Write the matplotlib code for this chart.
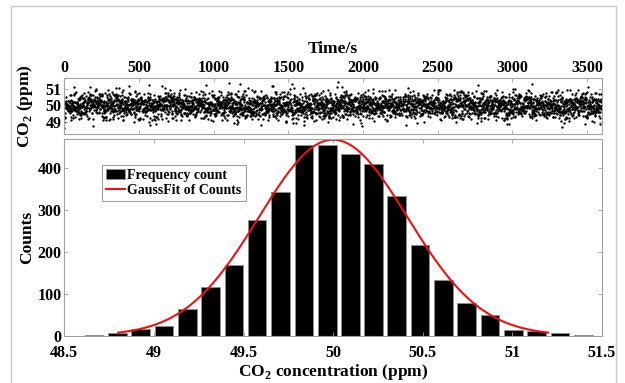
import matplotlib
matplotlib.use("Agg")
import matplotlib.pyplot as plt
import numpy as np
from matplotlib.patches import Rectangle

plt.rcParams['font.family'] = ['Liberation Serif', 'DejaVu Serif']
plt.rcParams['font.weight'] = 'bold'
plt.rcParams['mathtext.fontset'] = 'custom'
plt.rcParams['mathtext.rm'] = 'Liberation Serif:bold'
plt.rcParams['mathtext.bf'] = 'Liberation Serif:bold'

# histogram (bin centres in ppm, counts)
bin_centers = [48.666, 48.796, 48.926, 49.056, 49.186, 49.316, 49.446, 49.576,
               49.706, 49.837, 49.968, 50.096, 50.224, 50.355, 50.485, 50.615,
               50.745, 50.875, 51.005, 51.135, 51.265, 51.395]
counts = [1, 5, 15, 23, 64, 116, 168, 277, 344, 455, 456, 433, 411, 334, 216,
          133, 78, 48, 14, 10, 5, 1]
bin_width = 0.13

# gaussian fit parameters
gauss_amp = 468.0
gauss_mu = 50.0
gauss_sigma = 0.413
gauss_range = (48.8, 51.2)

# time series: 1 sample per second, values are the histogram's samples
values = []
for c, n in zip(bin_centers, counts):
    for k in range(n):
        values.append(c + bin_width * ((k + 0.5) / n - 0.5))
values = np.array(values)
# scramble the order of the samples (order is not readable from the picture)
h = np.sin(np.arange(len(values)) * 12.9898) * 43758.5453
order = np.argsort(h - np.floor(h))
co2 = values[order]
t = np.arange(len(co2))

grey = '#a0a0a0'
fig = plt.figure(figsize=(6.25, 3.83), dpi=100)
fig.patches.append(Rectangle((11 / 625, -0.01), 605 / 625, 1.01 - 6 / 383,
                             transform=fig.transFigure, fill=False,
                             edgecolor='#c8c8c8', lw=1.0))

ax1 = fig.add_axes([0.1029, 0.6493, 0.8603, 0.1462])
ax2 = fig.add_axes([0.1029, 0.124, 0.8603, 0.5123])

ax1.plot(t, co2, '.', color='k', markersize=3.4, markeredgewidth=0)
ax1.set_xlim(0, 3600)
ax1.set_ylim(48.3, 51.6)
ax1.set_xticks(range(0, 3501, 500))
ax1.set_yticks([49, 50, 51])
ax1.xaxis.set_label_position('top')
ax1.tick_params(axis='x', top=True, labeltop=True, bottom=True, labelbottom=False)
ax1.set_xlabel('Time/s', fontsize=12.5, fontweight='bold', labelpad=5)
ax1.set_ylabel(r'CO$_{\bf 2}$ (ppm)', fontsize=12.5, fontweight='bold')

bars = ax2.bar(bin_centers, counts, width=bin_width * 0.8, color='k',
               edgecolor='#909090', linewidth=0.6)
xf = np.linspace(gauss_range[0], gauss_range[1], 300)
yf = gauss_amp * np.exp(-(xf - gauss_mu) ** 2 / (2 * gauss_sigma ** 2))
line, = ax2.plot(xf, yf, color='#ee1111', lw=1.5)
ax2.set_xlim(48.5, 51.5)
ax2.set_ylim(0, 469)
ax2.set_xticks(np.arange(48.5, 51.51, 0.5))
ax2.set_xticklabels(['48.5', '49', '49.5', '50', '50.5', '51', '51.5'])
ax2.set_yticks([0, 100, 200, 300, 400])
ax2.set_xlabel(r'CO$_{\bf 2}$ concentration (ppm)', fontsize=12.5,
               fontweight='bold', labelpad=1)
ax2.set_ylabel('Counts', fontsize=12.5, fontweight='bold')
leg = ax2.legend([bars, line], ['Frequency count', 'GaussFit of Counts'],
                 loc='upper left', bbox_to_anchor=(0.0707, 0.869),
                 borderaxespad=0, fancybox=False, framealpha=1,
                 edgecolor=grey, prop={'size': 10, 'weight': 'bold'},
                 handlelength=1.3, handletextpad=0.2, borderpad=0.3,
                 labelspacing=0.15)
leg.get_frame().set_linewidth(0.8)

for ax in (ax1, ax2):
    ax.tick_params(direction='in', right=True, length=3, width=0.6,
                   color=grey, labelsize=11.5, pad=2)
    for s in ax.spines.values():
        s.set_color(grey)
        s.set_linewidth(0.8)
    for lab in ax.get_xticklabels() + ax.get_yticklabels():
        lab.set_fontweight('bold')
    ax.yaxis.set_label_coords(-0.055, 0.5)
ax2.tick_params(axis='x', top=True, pad=6.5)

fig.savefig('out.png', dpi=100)
